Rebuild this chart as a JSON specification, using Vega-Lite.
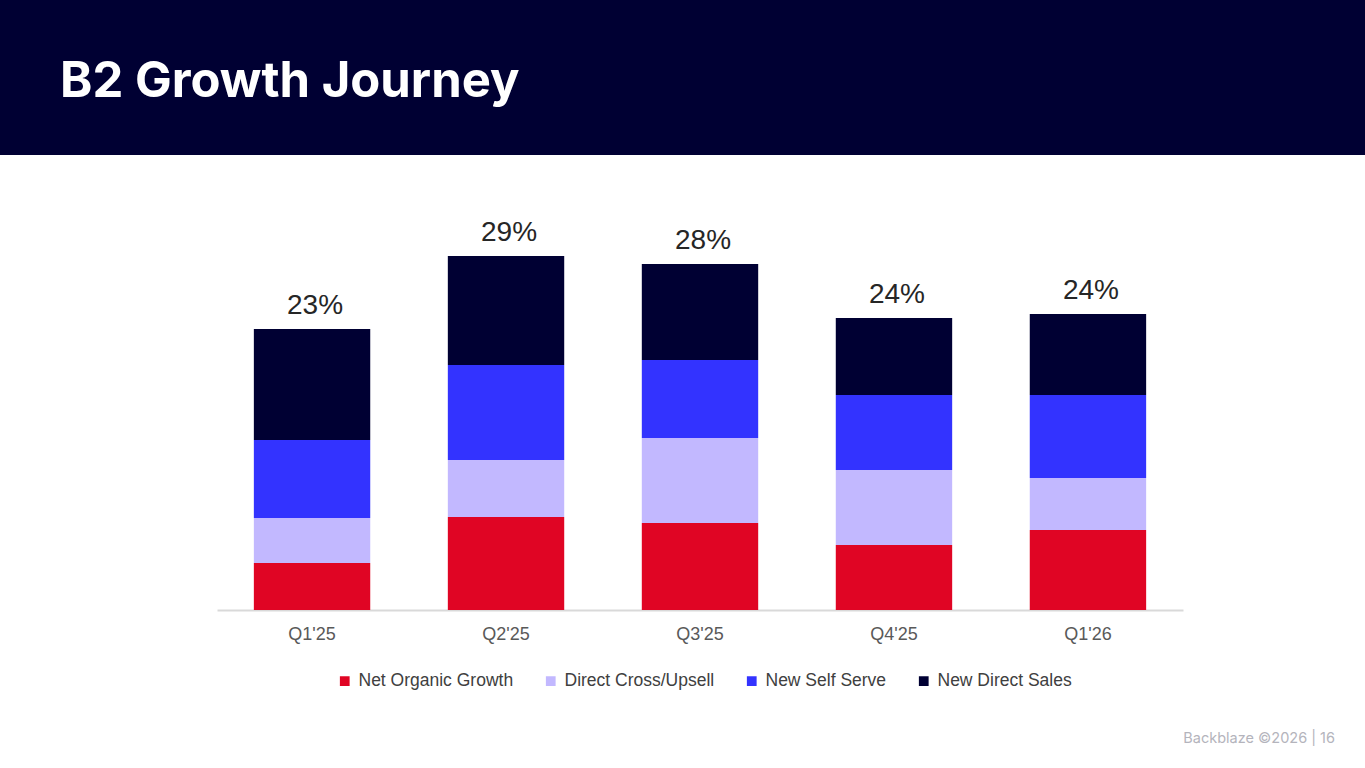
{
  "$schema": "https://vega.github.io/schema/vega-lite/v6.json",
  "background": "white",
  "padding": 0,
  "spacing": 28,
  "title": {
    "text": "Backblaze ©2026 |  16",
    "orient": "bottom",
    "anchor": "end",
    "frame": "bounds",
    "baseline": "alphabetic",
    "offset": 53,
    "dx": -30,
    "font": "Inter",
    "fontSize": 14.5,
    "fontWeight": "normal",
    "color": "#b4b4bc"
  },
  "vconcat": [
    {
      "width": 1365,
      "height": 155,
      "view": {"fill": "#000033", "stroke": null},
      "title": {
        "text": "B2 Growth Journey",
        "orient": "top",
        "anchor": "start",
        "frame": "group",
        "baseline": "alphabetic",
        "offset": -146,
        "dx": 60,
        "font": "Inter",
        "fontSize": 49,
        "fontWeight": 700,
        "color": "white"
      },
      "data": {"values": [{}]},
      "mark": {"type": "text", "text": ""}
    },
    {
      "width": 1365,
      "height": 427,
      "view": {"stroke": null},
      "data": {
        "values": [
          {"quarter": "Q1'25", "segment": "Net Organic Growth", "k": 1, "v": 0.0385},
          {"quarter": "Q1'25", "segment": "Direct Cross/Upsell", "k": 2, "v": 0.0369},
          {"quarter": "Q1'25", "segment": "New Self Serve", "k": 3, "v": 0.0639},
          {"quarter": "Q1'25", "segment": "New Direct Sales", "k": 4, "v": 0.0910},
          {"quarter": "Q2'25", "segment": "Net Organic Growth", "k": 1, "v": 0.0762},
          {"quarter": "Q2'25", "segment": "Direct Cross/Upsell", "k": 2, "v": 0.0467},
          {"quarter": "Q2'25", "segment": "New Self Serve", "k": 3, "v": 0.0779},
          {"quarter": "Q2'25", "segment": "New Direct Sales", "k": 4, "v": 0.0893},
          {"quarter": "Q3'25", "segment": "Net Organic Growth", "k": 1, "v": 0.0713},
          {"quarter": "Q3'25", "segment": "Direct Cross/Upsell", "k": 2, "v": 0.0697},
          {"quarter": "Q3'25", "segment": "New Self Serve", "k": 3, "v": 0.0639},
          {"quarter": "Q3'25", "segment": "New Direct Sales", "k": 4, "v": 0.0787},
          {"quarter": "Q4'25", "segment": "Net Organic Growth", "k": 1, "v": 0.0533},
          {"quarter": "Q4'25", "segment": "Direct Cross/Upsell", "k": 2, "v": 0.0615},
          {"quarter": "Q4'25", "segment": "New Self Serve", "k": 3, "v": 0.0615},
          {"quarter": "Q4'25", "segment": "New Direct Sales", "k": 4, "v": 0.0631},
          {"quarter": "Q1'26", "segment": "Net Organic Growth", "k": 1, "v": 0.0656},
          {"quarter": "Q1'26", "segment": "Direct Cross/Upsell", "k": 2, "v": 0.0426},
          {"quarter": "Q1'26", "segment": "New Self Serve", "k": 3, "v": 0.0680},
          {"quarter": "Q1'26", "segment": "New Direct Sales", "k": 4, "v": 0.0664}
        ]
      },
      "encoding": {
        "x": {
          "field": "quarter",
          "type": "nominal",
          "sort": null,
          "scale": {"range": [217, 1183], "paddingInner": 0.4, "paddingOuter": 0.19},
          "axis": {
            "title": null,
            "labelAngle": 0,
            "ticks": false,
            "labelPadding": 15,
            "labelFont": "Liberation Sans",
            "labelFontSize": 18,
            "labelColor": "#595959",
            "domainColor": "#d9d9d9",
            "domainWidth": 2
          }
        }
      },
      "layer": [
        {
          "mark": {"type": "bar"},
          "encoding": {
            "y": {
              "field": "v",
              "type": "quantitative",
              "stack": "zero",
              "scale": {"domain": [0, 0.35]},
              "axis": null
            },
            "order": {"field": "k", "type": "quantitative"},
            "color": {
              "field": "segment",
              "type": "nominal",
              "scale": {
                "domain": ["Net Organic Growth", "Direct Cross/Upsell", "New Self Serve", "New Direct Sales"],
                "range": ["#e00524", "#c2b8ff", "#3333ff", "#000033"]
              },
              "legend": {
                "orient": "none",
                "legendX": 336,
                "legendY": 672,
                "direction": "horizontal",
                "title": null,
                "symbolType": "square",
                "symbolSize": 95,
                "symbolStrokeWidth": 0,
                "labelFont": "Liberation Sans",
                "labelFontSize": 17.5,
                "labelColor": "#404040",
                "labelOffset": 5,
                "columnPadding": 28
              }
            }
          }
        },
        {
          "mark": {"type": "text", "baseline": "bottom", "dy": -9, "dx": 3, "font": "Liberation Sans", "fontSize": 28, "color": "#262626"},
          "encoding": {
            "y": {
              "aggregate": "sum",
              "field": "v",
              "type": "quantitative",
              "scale": {"domain": [0, 0.35]},
              "axis": null
            },
            "text": {"aggregate": "sum", "field": "v", "type": "quantitative", "format": ".0%"}
          }
        }
      ]
    }
  ]
}
